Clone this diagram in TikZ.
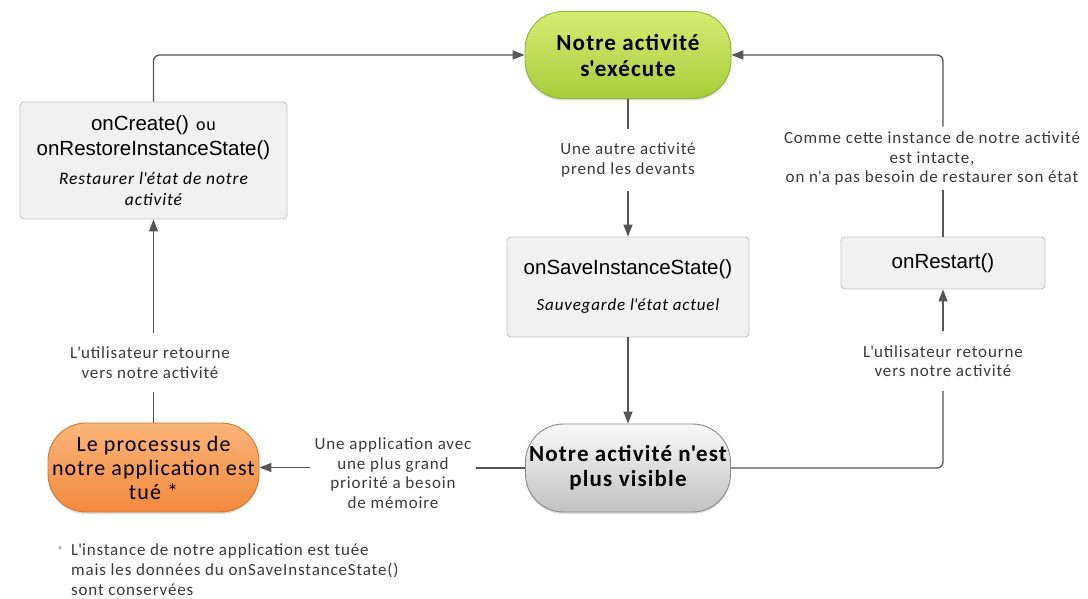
\documentclass[tikz,border=0pt]{standalone}
\usepackage{fontspec}
\setmainfont{Carlito}[LetterSpace=5]
\newfontfamily\arialfont{Liberation Sans}
\usepackage{tikz}
\usetikzlibrary{positioning, arrows.meta, shadows}

\definecolor{linegray}{HTML}{555555}
\definecolor{labelgray}{HTML}{3A3A3A}
\definecolor{boxfill}{HTML}{F1F1F1}
\definecolor{boxborder}{HTML}{C4C4C4}
\definecolor{greentop}{HTML}{D6EC72}
\definecolor{greenbot}{HTML}{A6CD3C}
\definecolor{greenline}{HTML}{8FB43A}
\definecolor{orangetop}{HTML}{FBB47A}
\definecolor{orangebot}{HTML}{F28A3C}
\definecolor{orangeline}{HTML}{D2782E}
\definecolor{graytop}{HTML}{F9F9F9}
\definecolor{graybot}{HTML}{C2C2C2}
\definecolor{grayline}{HTML}{8A8A8A}

\newcommand{\ap}{\textquotesingle}

\tikzset{
    flow/.style={draw=linegray, line width=1.3pt},
    arr/.style={flow, -{Triangle[length=12pt, width=9pt]}},
    state/.style={rounded corners=38pt, line width=0.9pt, align=center,
        drop shadow={opacity=0.25, shadow xshift=0pt, shadow yshift=-2pt}},
    method/.style={draw=boxborder, fill=boxfill, rounded corners=4pt, line width=0.9pt,
        align=center, font=\arialfont\fontsize{20.5}{25}\selectfont},
    lbl/.style={align=center, text=labelgray, inner xsep=4pt, inner ysep=14pt,
        font=\fontsize{17}{19.5}\selectfont},
}

\begin{document}
\begin{tikzpicture}[x=1pt, y=-1pt]
\useasboundingbox (0,0) rectangle (1088,599);

% states
\node[state, draw=greenline, top color=greentop, bottom color=greenbot,
      minimum width=206pt, minimum height=87pt, font=\fontsize{23}{26}\selectfont\bfseries]
      (run) at (628,55) {Notre activité\\s\ap exécute};
\node[state, draw=grayline, top color=graytop, bottom color=graybot,
      minimum width=205pt, minimum height=88pt, font=\fontsize{23}{25}\selectfont\bfseries]
      (gone) at (628,468) {Notre activité n\ap est\\plus visible};
\node[state, draw=orangeline, top color=orangetop, bottom color=orangebot,
      minimum width=211pt, minimum height=89pt, font=\fontsize{22}{24}\selectfont]
      (killed) at (153.5,467.5) {Le processus de\\notre application est\\tué *};

% callbacks
\node[method, minimum width=267pt, minimum height=117pt] (create) at (153.5,160.5)
    {onCreate()\hspace{7pt}{\normalfont\fontsize{18}{25}\selectfont ou}\\
     onRestoreInstanceState()\\[4pt]
     {\normalfont\itshape\fontsize{17.5}{20}\selectfont Restaurer l\ap état de notre}\\[-4pt]
     {\normalfont\itshape\fontsize{17.5}{20}\selectfont activité}};
\node[method, minimum width=242pt, minimum height=100pt] (save) at (628,287)
    {onSaveInstanceState()\\[11pt]
     {\normalfont\itshape\fontsize{17}{20}\selectfont Sauvegarde l\ap état actuel}};
\node[method, minimum width=204pt, minimum height=52pt] (restart) at (943,263) {onRestart()};

% transition labels
\node[lbl] (other) at (628,160) {Une autre activité\\prend les devants};
\node[lbl, inner ysep=5pt] (intact) at (932,158.5)
    {Comme cette instance de notre activité\\est intacte,\\on n\ap a pas besoin de restaurer son état};
\node[lbl] (backR) at (943,361) {L\ap utilisateur retourne\\vers notre activité};
\node[lbl] (backL) at (150,362.5) {L\ap utilisateur retourne\\vers notre activité};
\node[lbl] (memory) at (393,473) {Une application avec\\une plus grand\\priorité a besoin\\de mémoire};

% footnote
\node[anchor=north, text=grayline, font=\fontsize{13}{13}\selectfont, inner sep=0pt]
    (footstar) at (60,546) {*};
\node[anchor=north west, align=left, text=labelgray, inner sep=0pt,
      font=\fontsize{17}{20}\selectfont] (foot) at (71,543)
    {L\ap instance de notre application est tuée\\
     mais les données du onSaveInstanceState()\\
     sont conservées};

% connectors
\draw[arr, rounded corners=6pt] (create.north) |- (run.west);
\draw[flow] (run.south) -- (run.south |- other.north);
\draw[arr] (run.south |- other.south) -- (save.north);
\draw[arr] (save.south) -- (gone.north);
\draw[flow] (gone.west) -- (gone.west -| memory.east);
\draw[arr] (killed.east -| memory.west) -- (killed.east);
\draw[flow] (killed.north) -- (killed.north |- backL.south);
\draw[arr] (killed.north |- backL.north) -- (create.south);
\draw[flow, rounded corners=6pt] (gone.east) -| (backR.south);
\draw[arr] (backR.north) -- (restart.south);
\draw[flow] (restart.north) -- (restart.north |- intact.south);
\draw[arr, rounded corners=6pt] (restart.north |- intact.north) |- (run.east);

\end{tikzpicture}
\end{document}
